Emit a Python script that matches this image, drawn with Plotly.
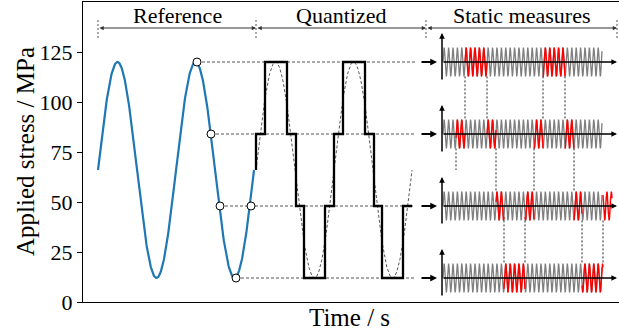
import numpy as np
import plotly.graph_objects as go

# ---------------- values ----------------
levels = [12, 48, 84, 120]                 # quantization levels (MPa)
ref_mean = 66                              # MPa
ref_amplitude = 54                         # MPa
ref_period = 78                            # time units
ref_start, ref_end = 98, 254               # reference signal span
quant_start, quant_end = 256, 412          # quantized signal span

sample_x = [197, 211, 220, 251, 236]       # sampled points on reference
sample_y = [120, 84, 48, 48, 12]
guide_start = [197, 211, 220, 236]         # dashed guides, one per level below
guide_level = [120, 84, 48, 12]
guide_end = 415

# quantized step signal: segment boundaries and segment values
step_t = [256, 265, 287, 296, 304, 325, 334, 343, 365, 374, 382, 403, 412]
step_v = [84, 120, 84, 48, 12, 48, 84, 120, 84, 48, 12, 48]
step_start_value = 66

# static measures panel
mini_offset = 200                          # time shift quantized -> panel
mini_start, mini_end = 443, 602
mini_period = 4.4
mini_amp = 7.2

header_edges = [98, 256, 426, 617]
header_labels = ["Reference", "Quantized", "Static measures"]
header_y = 137

yticks = [0, 25, 50, 75, 100, 125]

FONT = "Liberation Serif"
BLUE = "#1f77b4"

fig = go.Figure()

# ---------------- guides ----------------
for xs, lv in zip(guide_start, guide_level):
    fig.add_trace(go.Scatter(x=[xs, guide_end], y=[lv, lv], mode="lines",
                             line=dict(color="#555555", width=1.1, dash="3px,2px"),
                             hoverinfo="skip", showlegend=False))

# ---------------- reference sine ----------------
t_ref = np.linspace(ref_start, ref_end, 400)
fig.add_trace(go.Scatter(x=t_ref,
                         y=ref_mean + ref_amplitude * np.sin(2 * np.pi * (t_ref - ref_start) / ref_period),
                         mode="lines", line=dict(color=BLUE, width=2.2),
                         hoverinfo="skip", showlegend=False))

# ---------------- quantized: thin dashed sine + step ----------------
t_q = np.linspace(quant_start, quant_end, 400)
fig.add_trace(go.Scatter(x=t_q,
                         y=ref_mean + ref_amplitude * np.sin(2 * np.pi * (t_q - quant_start) / ref_period),
                         mode="lines", line=dict(color="#444444", width=0.9, dash="3px,2px"),
                         hoverinfo="skip", showlegend=False))
sx = [step_t[0]]
sy = [step_start_value]
for i, v in enumerate(step_v):
    sx += [step_t[i], step_t[i + 1]]
    sy += [v, v]
fig.add_trace(go.Scatter(x=sx, y=sy, mode="lines",
                         line=dict(color="black", width=2.3),
                         hoverinfo="skip", showlegend=False))

# ---------------- sample markers ----------------
fig.add_trace(go.Scatter(x=sample_x, y=sample_y, mode="markers",
                         marker=dict(size=8, color="white", line=dict(color="black", width=1)),
                         hoverinfo="skip", showlegend=False))

# ---------------- static measures mini panels ----------------
t_m = np.linspace(mini_start, mini_end, 1200)
for lv in levels:
    fig.add_trace(go.Scatter(x=t_m, y=lv + mini_amp * np.sin(2 * np.pi * (t_m - mini_start) / mini_period),
                             mode="lines", line=dict(color="#7f7f7f", width=1.3),
                             hoverinfo="skip", showlegend=False))
    for i, v in enumerate(step_v):
        if v != lv:
            continue
        a, b = step_t[i] + mini_offset, step_t[i + 1] + mini_offset
        tr = np.linspace(a, b, 300)
        fig.add_trace(go.Scatter(x=tr, y=lv + mini_amp * np.sin(2 * np.pi * (tr - mini_start) / mini_period),
                                 mode="lines", line=dict(color="red", width=1.4),
                                 hoverinfo="skip", showlegend=False))

# connecting dashed lines between panels at each transition
prev = step_start_value
for i, v in enumerate(step_v):
    x = step_t[i] + mini_offset
    hi, lo = max(prev, v), min(prev, v)
    y0 = hi - mini_amp if hi in levels else hi
    y1 = lo + mini_amp if lo in levels else lo
    fig.add_trace(go.Scatter(x=[x, x], y=[y0, y1], mode="lines",
                             line=dict(color="#222222", width=1, dash="2px,2px"),
                             hoverinfo="skip", showlegend=False))
    prev = v

annotations = []


def arrow(x0, y0, x1, y1, width=1.5, head=2, size=1.0, side="end", color="black"):
    return dict(x=x1, y=y1, ax=x0, ay=y0, xref="x", yref="y", axref="x", ayref="y",
                showarrow=True, arrowhead=head, startarrowhead=head, arrowsize=size,
                startarrowsize=size, arrowwidth=width, arrowcolor=color, text="",
                arrowside=side, standoff=0, startstandoff=0)


for lv in levels:
    annotations.append(arrow(420, lv, 437, lv, width=1.8, size=0.75))
    annotations.append(arrow(442, lv - 9.5, 442, lv + 14.5, width=1.5, size=0.75))
    annotations.append(arrow(442, lv, 617, lv, width=1.5, size=0.75))

# section headers
for i, lab in enumerate(header_labels):
    a, b = header_edges[i], header_edges[i + 1]
    annotations.append(arrow(a, header_y, b, header_y, width=1, size=0.85, side="end+start",
                             color="#333333"))
    annotations.append(dict(x=(a + b) / 2, y=header_y - 1.0, xref="x", yref="y", text=lab,
                            showarrow=False, yanchor="bottom",
                            font=dict(family=FONT, size=22, color="black")))
for e in header_edges:
    fig.add_trace(go.Scatter(x=[e, e], y=[header_y - 5, header_y + 5], mode="lines",
                             line=dict(color="#555555", width=1, dash="2px,2px"),
                             hoverinfo="skip", showlegend=False))

# axis titles as text annotations (paper coords of the plot area)
annotations.append(dict(x=(349 - 83) / 536, y=-(318 - 302) / 300, xref="paper", yref="paper",
                        text="Time / s", showarrow=False, xanchor="center", yanchor="middle",
                        font=dict(family=FONT, size=25, color="black")))
annotations.append(dict(x=(25 - 83) / 536, y=(302 - 152) / 300, xref="paper", yref="paper",
                        text="Applied stress / MPa", showarrow=False, textangle=-90,
                        xanchor="center", yanchor="middle",
                        font=dict(family=FONT, size=25, color="black")))

fig.update_layout(
    width=619, height=332,
    margin=dict(l=83, r=0, t=2, b=30, autoexpand=False),
    plot_bgcolor="white", paper_bgcolor="white",
    annotations=annotations,
    font=dict(family=FONT, size=22, color="black"),
    xaxis=dict(range=[83, 619], showgrid=False, zeroline=False, showticklabels=False,
               ticks="", showline=True, mirror=True, linecolor="black", linewidth=1.3,
               automargin=False),
    yaxis=dict(range=[0, 150], showgrid=False, zeroline=False, tickvals=yticks,
               ticks="outside", ticklen=5, tickwidth=1, tickcolor="black",
               showline=True, mirror=False, linecolor="black", linewidth=1.3,
               tickfont=dict(family=FONT, size=22), automargin=False),
)

fig.write_html("out.html", config={"displayModeBar": False},
               post_script="document.body.style.margin='0px';document.body.style.padding='0px';")
